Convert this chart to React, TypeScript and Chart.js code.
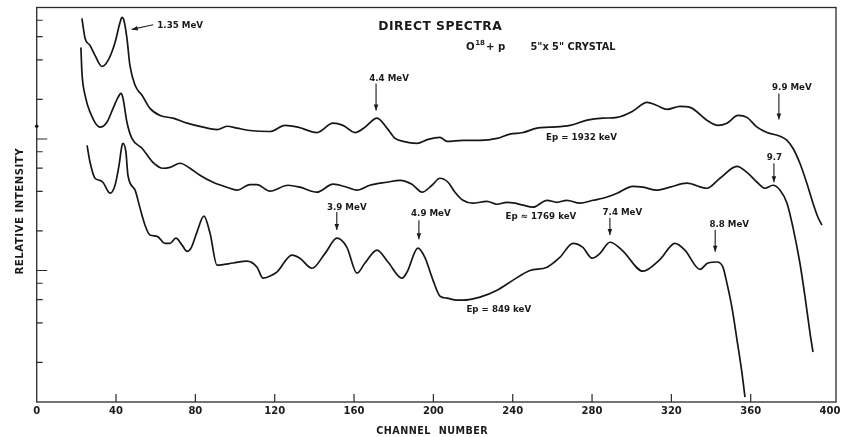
import React, { useEffect, useRef } from "react";
import { Chart, registerables } from "chart.js";

Chart.register(...registerables);

// ---------- data (channel number, relative intensity) ----------
const ep1932Channels = [22.8, 24.4, 26.9, 29.4, 32.9, 36.0, 39.5, 42.0, 43.0, 44.0, 45.5, 47.0, 49.6, 53.1, 57.1, 62.2, 68.7, 75.8, 83.9, 90.9, 96.0, 101.0, 107.5, 117.6, 125.2, 131.7, 141.3, 149.4, 154.4, 160.5, 165.5, 171.6, 176.6, 180.7, 184.7, 191.7, 197.3, 203.3, 206.9, 214.9, 223.5, 232.1, 238.6, 245.2, 252.2, 258.8, 268.9, 277.5, 285.5, 292.6, 300.6, 307.7, 312.7, 317.8, 324.3, 329.4, 337.9, 343.5, 348.0, 353.6, 358.1, 363.2, 368.2, 374.8, 378.3, 381.3, 384.8, 388.3, 391.4, 393.9, 395.9];
const ep1932Values = [82.5, 58.2, 51.5, 43.2, 35.6, 39.6, 54.2, 76.9, 84.0, 79.7, 58.2, 36.3, 25.6, 21.5, 17.1, 15.1, 14.4, 13.2, 12.3, 11.8, 12.5, 12.1, 11.6, 11.4, 12.7, 12.3, 11.2, 13.2, 12.7, 11.2, 12.3, 14.4, 12.1, 10.1, 9.60, 9.27, 9.94, 10.3, 9.60, 9.77, 9.77, 10.1, 10.9, 11.2, 12.1, 12.3, 12.7, 13.9, 14.4, 14.6, 16.3, 19.0, 18.0, 16.8, 17.7, 17.4, 13.9, 12.7, 13.2, 15.1, 14.6, 12.3, 11.2, 10.5, 9.77, 8.50, 6.54, 4.61, 3.25, 2.54, 2.21];

const ep1769Channels = [22.3, 22.8, 24.4, 26.9, 31.9, 35.4, 38.5, 41.0, 42.5, 43.5, 45.5, 48.0, 53.1, 58.6, 63.7, 67.2, 72.3, 77.3, 82.3, 88.9, 95.9, 101.0, 107.5, 111.0, 117.6, 126.7, 132.7, 141.3, 149.4, 156.4, 161.5, 168.0, 176.6, 183.2, 189.2, 194.3, 199.3, 203.3, 207.4, 210.9, 214.9, 219.9, 227.0, 232.1, 237.1, 241.2, 245.2, 250.2, 257.3, 262.3, 267.3, 273.9, 280.5, 285.5, 292.6, 300.6, 305.7, 312.7, 319.3, 327.8, 337.9, 344.5, 353.1, 358.1, 363.2, 367.2, 371.2, 374.8, 378.3, 381.3, 384.8, 387.4, 389.9, 391.4];
const ep1769Values = [49.7, 32.1, 21.5, 16.0, 12.3, 13.4, 17.1, 20.7, 22.2, 20.4, 13.4, 10.1, 8.50, 6.65, 5.99, 6.09, 6.54, 5.99, 5.30, 4.69, 4.30, 4.08, 4.50, 4.50, 4.01, 4.45, 4.30, 3.94, 4.53, 4.30, 4.08, 4.45, 4.69, 4.85, 4.53, 3.94, 4.45, 5.03, 4.69, 3.94, 3.42, 3.25, 3.36, 3.19, 3.30, 3.25, 3.14, 3.03, 3.42, 3.30, 3.42, 3.25, 3.42, 3.54, 3.87, 4.37, 4.30, 4.08, 4.30, 4.61, 4.22, 5.03, 6.20, 5.58, 4.69, 4.22, 4.45, 4.08, 3.25, 2.13, 1.14, 0.628, 0.334, 0.240];

const ep849Channels = [25.4, 26.9, 29.4, 31.9, 33.4, 37.0, 39.5, 41.5, 43.0, 43.5, 45.0, 46.0, 49.6, 52.1, 54.6, 57.1, 60.7, 64.7, 67.2, 70.2, 73.3, 75.8, 77.8, 80.8, 84.3, 87.4, 90.9, 99.0, 106.0, 111.1, 114.1, 117.6, 121.1, 128.7, 132.7, 138.8, 145.4, 151.4, 156.4, 161.5, 165.5, 171.6, 177.1, 184.2, 186.7, 192.2, 195.7, 199.8, 203.3, 206.9, 211.9, 214.9, 223.5, 232.1, 240.2, 248.7, 257.3, 263.8, 270.4, 275.4, 280.0, 284.0, 289.0, 295.1, 305.7, 314.2, 321.8, 326.8, 334.4, 338.4, 343.0, 346.0, 348.0, 350.5, 353.1, 355.6, 357.1];
const ep849Values = [8.95, 6.65, 5.03, 4.85, 4.69, 3.87, 4.45, 6.31, 8.95, 9.27, 7.92, 5.30, 4.08, 2.98, 2.21, 1.86, 1.82, 1.61, 1.61, 1.76, 1.56, 1.40, 1.48, 1.96, 2.59, 1.92, 1.10, 1.14, 1.18, 1.06, 0.874, 0.906, 0.971, 1.31, 1.24, 1.04, 1.35, 1.76, 1.50, 0.954, 1.14, 1.43, 1.16, 0.874, 0.971, 1.48, 1.26, 0.845, 0.639, 0.616, 0.595, 0.595, 0.628, 0.709, 0.845, 1.00, 1.06, 1.26, 1.61, 1.50, 1.24, 1.35, 1.64, 1.43, 0.988, 1.21, 1.61, 1.43, 1.02, 1.14, 1.16, 1.06, 0.801, 0.527, 0.296, 0.166, 0.109];

// axis ticks
const xTickValues = [0, 40, 80, 120, 160, 200, 240, 280, 320, 360, 400];
const yTickValues = [0.2, 0.4, 0.6, 0.8, 1, 2, 4, 6, 8, 10, 20, 40, 60, 80];
const yMajorTickValues = [1, 10];
const axisDotValue = 12.5;

// peak annotations (arrow tip in data units)
const peakLabels = ["1.35 MeV", "4.4 MeV", "9.9 MeV", "9.7", "3.9 MeV", "4.9 MeV", "7.4 MeV", "8.8 MeV"];
const peakChannels = [47.9, 171.1, 374.2, 371.7, 151.3, 192.7, 289.0, 342.1];
const peakValues = [68.1, 16.5, 14.1, 4.69, 2.03, 1.73, 1.86, 1.39];

// beam energy labels (text centre in data units)
const energyLabels = ["Ep = 1932 keV", "Ep \u2248 1769 keV", "Ep = 849 keV"];
const energyChannels = [274.7, 254.2, 233.0];
const energyValues = [10.4, 2.59, 0.513];

// ---------- styles ----------
const FONT = '"DejaVu Sans", "Liberation Sans", sans-serif';
const INK = "#1a1a1a";
// per-annotation pixel offsets: arrow length (or diagonal tail), text centre offset
const peakStyles = [
  { tail: [21.6, -4.7], tx: 25.6, ty: -5, align: "left" },
  { len: 27, tx: 13, ty: -33, align: "center" },
  { len: 26, tx: 13, ty: -33, align: "center" },
  { len: 19, tx: 0.5, ty: -25, align: "center" },
  { len: 18, tx: 10, ty: -23.5, align: "center" },
  { len: 19, tx: 12, ty: -26, align: "center" },
  { len: 17, tx: 12.5, ty: -23.5, align: "center" },
  { len: 22, tx: 14, ty: -28, align: "center" },
] as any[];

function text(ctx: CanvasRenderingContext2D, s: string, x: number, yCenter: number, size: number, align: CanvasTextAlign = "center", spacing = 0, weight = "bold") {
  ctx.font = `${weight} ${size}px ${FONT}`;
  (ctx as any).letterSpacing = `${spacing}px`;
  ctx.textAlign = align;
  ctx.textBaseline = "alphabetic";
  let dx = 0;
  if (spacing && align === "center") dx = spacing / 2;
  ctx.fillText(s, x + dx, yCenter + size * 0.365);
  (ctx as any).letterSpacing = "0px";
}

function arrowHead(ctx: CanvasRenderingContext2D, tx: number, ty: number, fx: number, fy: number) {
  const ang = Math.atan2(ty - fy, tx - fx);
  const L = 6, W = 2.3;
  const bx = tx - Math.cos(ang) * L, by = ty - Math.sin(ang) * L;
  ctx.beginPath();
  ctx.moveTo(tx, ty);
  ctx.lineTo(bx - Math.sin(ang) * W, by + Math.cos(ang) * W);
  ctx.lineTo(bx + Math.sin(ang) * W, by - Math.cos(ang) * W);
  ctx.closePath();
  ctx.fill();
}

const decorPlugin = {
  id: "decor",
  afterDatasetsDraw(chart: any) {
    const { ctx, chartArea: a, scales } = chart;
    const xs = scales.x, ys = scales.y;
    ctx.save();
    ctx.strokeStyle = "#2a2a2a";
    ctx.fillStyle = INK;
    // frame
    ctx.lineWidth = 1.3;
    ctx.strokeRect(a.left, a.top, a.right - a.left, a.bottom - a.top);
    // inner ticks
    ctx.lineWidth = 1.2;
    ctx.beginPath();
    yTickValues.forEach((v) => {
      const y = ys.getPixelForValue(v);
      const len = yMajorTickValues.includes(v) ? 10.5 : 6;
      ctx.moveTo(a.left, y);
      ctx.lineTo(a.left + len, y);
    });
    xTickValues.forEach((v) => {
      if (v <= 0 || v >= 400) return;
      const x = xs.getPixelForValue(v);
      ctx.moveTo(x, a.bottom);
      ctx.lineTo(x, a.bottom - 8);
    });
    ctx.stroke();
    // dot on axis
    ctx.beginPath();
    ctx.arc(a.left, ys.getPixelForValue(axisDotValue), 1.8, 0, Math.PI * 2);
    ctx.fill();

    // x tick labels
    xTickValues.forEach((v) => {
      text(ctx, String(v), xs.getPixelForValue(v), a.bottom + 8.3, 10, "center");
    });
    // axis titles
    text(ctx, "CHANNEL  NUMBER", 432, 430, 9.6, "center", 0.5);
    ctx.save();
    ctx.translate(19, 211.5);
    ctx.rotate(-Math.PI / 2);
    text(ctx, "RELATIVE INTENSITY", 0, 0, 10.2, "center", 0.5);
    ctx.restore();

    // titles
    text(ctx, "DIRECT SPECTRA", 440, 26, 12.3, "center", 0.5);
    ctx.font = `bold 10.2px ${FONT}`;
    let x0 = 466;
    text(ctx, "O", x0, 46, 10.2, "left");
    x0 += ctx.measureText("O").width + 0.5;
    ctx.font = `bold 7px ${FONT}`;
    const supW = ctx.measureText("18").width;
    text(ctx, "18", x0, 42, 7, "left");
    x0 += supW + 1;
    text(ctx, "+ p", x0, 46, 10.2, "left");
    text(ctx, '5"x 5" CRYSTAL', 573, 46, 9.8, "center");

    // peak annotations
    ctx.lineWidth = 1.2;
    peakLabels.forEach((lab, i) => {
      const st = peakStyles[i];
      const tx = xs.getPixelForValue(peakChannels[i]);
      const ty = ys.getPixelForValue(peakValues[i]);
      let fx: number, fy: number;
      if (st.tail) {
        fx = tx + st.tail[0];
        fy = ty + st.tail[1];
      } else {
        fx = tx;
        fy = ty - st.len;
      }
      ctx.beginPath();
      ctx.moveTo(fx, fy);
      ctx.lineTo(tx, ty);
      ctx.stroke();
      arrowHead(ctx, tx, ty, fx, fy);
      text(ctx, lab, tx + st.tx, ty + st.ty, 8.7, st.align);
    });

    // energy labels
    energyLabels.forEach((lab, i) => {
      text(ctx, lab, xs.getPixelForValue(energyChannels[i]), ys.getPixelForValue(energyValues[i]), 8.7, "center");
    });
    ctx.restore();
  },
};

function toPoints(xs: number[], ys: number[]) {
  return xs.map((x, i) => ({ x, y: ys[i] }));
}

export default function App() {
  const canvasRef = useRef<HTMLCanvasElement | null>(null);

  useEffect(() => {
    const canvas = canvasRef.current;
    if (!canvas) return;
    const lineStyle = {
      borderColor: "#161616",
      borderWidth: 1.7,
      pointRadius: 0,
      fill: false,
      cubicInterpolationMode: "monotone" as const,
      clip: false as any,
    };
    const chart = new Chart(canvas, {
      type: "line",
      data: {
        datasets: [
          { label: "Ep = 1932 keV", data: toPoints(ep1932Channels, ep1932Values), ...lineStyle },
          { label: "Ep = 1769 keV", data: toPoints(ep1769Channels, ep1769Values), ...lineStyle },
          { label: "Ep = 849 keV", data: toPoints(ep849Channels, ep849Values), ...lineStyle },
        ],
      },
      options: {
        animation: false,
        responsive: true,
        maintainAspectRatio: false,
        events: [],
        layout: { padding: { left: 36.7, right: 6, top: 7.5, bottom: 35 } },
        plugins: { legend: { display: false }, tooltip: { enabled: false } },
        scales: {
          x: { type: "linear", min: 0, max: 403, display: false },
          y: { type: "logarithmic", min: 0.1, max: 100, display: false },
        },
      },
      plugins: [decorPlugin],
    });
    return () => chart.destroy();
  }, []);

  return (
    <div style={{ position: "fixed", left: 0, top: 0, width: 842, height: 437, background: "#fff" }}>
      <canvas ref={canvasRef} />
    </div>
  );
}
